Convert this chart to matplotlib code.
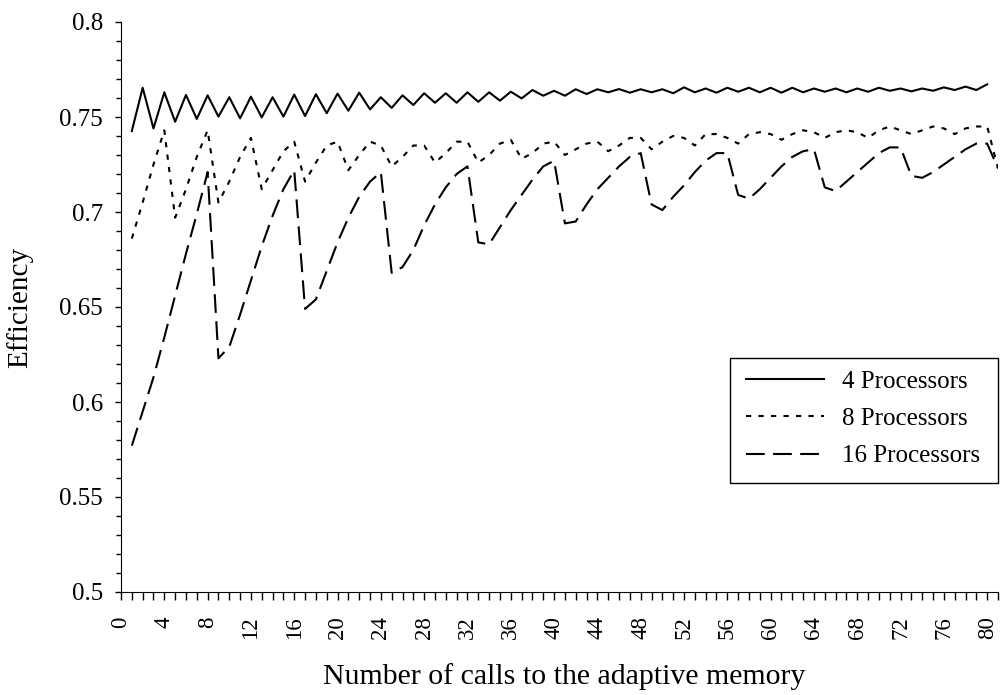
import matplotlib.pyplot as plt
from matplotlib.ticker import MultipleLocator
from matplotlib.patches import Rectangle
import numpy as np

plt.rcParams['font.family'] = ['Liberation Serif', 'DejaVu Serif']

# efficiency per number of calls to the adaptive memory
eff_4 = [0.7426, 0.7654, 0.744, 0.763, 0.7475, 0.7616, 0.749, 0.7614, 0.7502, 0.7604,
         0.7493, 0.7607, 0.7498, 0.7604, 0.7502, 0.7618, 0.7505, 0.762, 0.752, 0.7623,
         0.7533, 0.7628, 0.754, 0.7604, 0.7548, 0.7614, 0.7563, 0.7625, 0.7575, 0.7625,
         0.7575, 0.763, 0.758, 0.763, 0.7586, 0.7633, 0.7598, 0.7642, 0.7612, 0.7638,
         0.7612, 0.7646, 0.7621, 0.7646, 0.763, 0.7647, 0.7628, 0.7646, 0.763, 0.7646,
         0.7625, 0.7656, 0.763, 0.765, 0.7628, 0.7654, 0.7633, 0.7654, 0.763, 0.7654,
         0.7628, 0.7654, 0.763, 0.765, 0.7633, 0.765, 0.763, 0.765, 0.7633, 0.7654,
         0.7638, 0.765, 0.7635, 0.765, 0.7638, 0.7656, 0.7642, 0.766, 0.7642, 0.7672]

eff_8 = [0.686, 0.705, 0.725, 0.743, 0.697, 0.712, 0.729, 0.743, 0.705, 0.716,
         0.729, 0.739, 0.712, 0.722, 0.732, 0.737, 0.716, 0.726, 0.735, 0.737,
         0.722, 0.730, 0.737, 0.735, 0.724, 0.729, 0.735, 0.735, 0.726, 0.731,
         0.737, 0.737, 0.726, 0.730, 0.736, 0.738, 0.728, 0.731, 0.736, 0.737,
         0.730, 0.733, 0.736, 0.737, 0.732, 0.735, 0.739, 0.739, 0.733, 0.737,
         0.740, 0.739, 0.735, 0.741, 0.741, 0.739, 0.736, 0.741, 0.742, 0.741,
         0.738, 0.741, 0.743, 0.742, 0.739, 0.742, 0.743, 0.742, 0.739, 0.743,
         0.745, 0.743, 0.741, 0.743, 0.745, 0.744, 0.741, 0.744, 0.745, 0.745,
         0.723]

eff_16 = [0.577, 0.595, 0.613, 0.634, 0.656, 0.678, 0.699, 0.721, 0.623, 0.629,
          0.646, 0.664, 0.682, 0.698, 0.712, 0.722, 0.649, 0.654, 0.669, 0.684,
          0.697, 0.708, 0.716, 0.721, 0.668, 0.671, 0.680, 0.693, 0.704, 0.713,
          0.720, 0.724, 0.684, 0.683, 0.692, 0.701, 0.709, 0.717, 0.724, 0.727,
          0.694, 0.695, 0.704, 0.712, 0.718, 0.724, 0.729, 0.731, 0.704, 0.701,
          0.708, 0.714, 0.721, 0.727, 0.731, 0.731, 0.709, 0.707, 0.712, 0.718,
          0.724, 0.729, 0.732, 0.733, 0.713, 0.711, 0.716, 0.721, 0.726, 0.731,
          0.734, 0.734, 0.719, 0.718, 0.721, 0.725, 0.729, 0.733, 0.736, 0.736,
          0.723]

labels = ['4 Processors', '8 Processors', '16 Processors']
yticks = [0.5, 0.55, 0.6, 0.65, 0.7, 0.75, 0.8]
ytick_labels = ['0.5', '0.55', '0.6', '0.65', '0.7', '0.75', '0.8']

W, H = 1002, 695
fig = plt.figure(figsize=(W/100, H/100), dpi=100)
ax = fig.add_axes([121/W, 1 - 592/H, 877/W, 570/H])

ax.plot(np.arange(1, len(eff_4) + 1), eff_4, color='black', lw=1.5,
        label=labels[0])
ax.plot(np.arange(1, len(eff_8) + 1), eff_8, color='black', lw=1.5,
        dashes=(2.5, 3.5), label=labels[1])
ax.plot(np.arange(1, len(eff_16) + 1), eff_16, color='black', lw=1.5,
        dashes=(9, 4), label=labels[2])

ax.set_xlim(0, 81)
ax.xaxis.set_major_locator(MultipleLocator(4))
ax.xaxis.set_minor_locator(MultipleLocator(1))
ax.set_yticks(yticks)
ax.set_yticklabels(ytick_labels)
ax.yaxis.set_minor_locator(MultipleLocator(0.01))
ax.set_ylim(0.5, 0.8)

for s in ['top', 'right']:
    ax.spines[s].set_visible(False)
ax.tick_params(axis='both', which='both', direction='out', width=1, labelsize=16.5)
ax.tick_params(axis='y', which='major', length=4.5, pad=8.5, labelsize=18)
ax.tick_params(axis='y', which='minor', length=3.5)
ax.tick_params(axis='x', which='both', length=5.5)
ax.tick_params(axis='x', labelrotation=90, pad=12)

ax.set_xlabel('Number of calls to the adaptive memory', fontsize=21.5, va='top')
ax.xaxis.set_label_coords(0.505, (592 - 663) / 570)
ax.set_ylabel('Efficiency', fontsize=21, va='bottom')
ax.yaxis.set_label_coords((33 - 121) / 877, 0.5)

# legend without its own frame; the box is drawn separately
leg = ax.legend(loc='upper left', bbox_to_anchor=(746/W, 1 - 370/H),
                bbox_transform=fig.transFigure, borderaxespad=0, borderpad=0,
                frameon=False, fontsize=18, handlelength=3.1,
                handletextpad=0.75, labelspacing=0.6)
fig.patches.append(Rectangle((730/W, 1 - 483/H), 268/W, 125/H,
                             transform=fig.transFigure, fill=False,
                             edgecolor='black', lw=1.0))

fig.savefig('out.png', dpi=100)
